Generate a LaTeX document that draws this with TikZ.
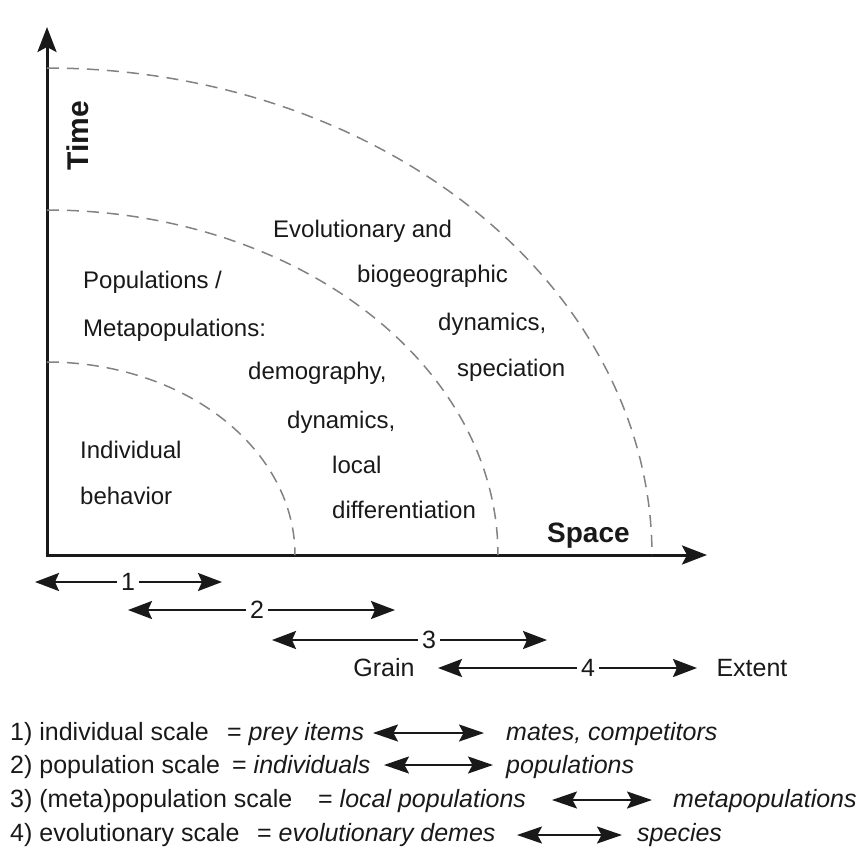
\documentclass[tikz,border=0pt]{standalone}
\usepackage{fontspec}
\setmainfont{Liberation Sans}
\usetikzlibrary{arrows.meta}
\definecolor{ink}{RGB}{25,25,25}
\definecolor{arcgray}{RGB}{130,130,130}
\begin{document}
\begin{tikzpicture}[x=1pt,y=-1pt,
  lbl/.style={font=\fontsize{24}{28}\selectfont, inner sep=0pt, anchor=base west, text=ink},
  leg/.style={font=\fontsize{25}{29}\selectfont, inner sep=0pt, anchor=base west, text=ink},
  num/.style={font=\fontsize{25}{29}\selectfont, inner sep=4pt, text=ink},
  axislbl/.style={font=\bfseries\fontsize{28}{32}\selectfont, inner sep=0pt, text=ink},
  axisline/.style={draw=ink, line width=3pt, line join=miter,
     {Stealth[length=25pt,width=19pt,inset=5pt]}-{Stealth[length=25pt,width=19pt,inset=5pt]}},
  scalearrow/.style={draw=ink, line width=2.2pt, -{Stealth[length=24pt,width=18pt,inset=4pt]}},
  legarrow/.style={draw=ink, line width=2pt,
     {Stealth[length=25pt,width=17pt,inset=4.5pt]}-{Stealth[length=25pt,width=17pt,inset=4.5pt]}},
  zone/.style={draw=arcgray, line width=1.5pt, dash pattern=on 12pt off 8pt}
]
\useasboundingbox (0,0) rectangle (867,851);

% axes
\coordinate (O) at (47,555);
\coordinate (ytip) at (47,27);
\coordinate (xtip) at (707,555);
\draw[axisline] (ytip) -- (O) -- (xtip);

% dashed zone boundaries (quarter ellipses)
\draw[zone] plot[domain=90:0, samples=90] ({47+248*cos(\x)}, {555-193*sin(\x)});
\draw[zone] plot[domain=90:0, samples=90] ({47+451*cos(\x)}, {555-345*sin(\x)});
\draw[zone] plot[domain=90:0, samples=90] ({47+605*cos(\x)}, {555-487*sin(\x)});

% axis labels
\node[axislbl, font=\bfseries\fontsize{30}{34}\selectfont, rotate=90, anchor=base] (time) at (88,136) {Time};
\node[axislbl, anchor=base west] (space) at (547,542) {Space};

% zone texts
\node[lbl] (ev1) at (273,237) {Evolutionary and};
\node[lbl] (ev2) at (357,282) {biogeographic};
\node[lbl] (ev3) at (438,330) {dynamics,};
\node[lbl] (ev4) at (457,376) {speciation};

\node[lbl] (po1) at (83,288) {Populations /};
\node[lbl] (po2) at (83,336) {Metapopulations:};
\node[lbl] (po3) at (248,379) {demography,};
\node[lbl] (po4) at (287,428) {dynamics,};
\node[lbl] (po5) at (332,473) {local};
\node[lbl] (po6) at (332,518) {differentiation};

\node[lbl] (in1) at (80,458) {Individual};
\node[lbl] (in2) at (80,504) {behavior};

% scale ranges
\node[num] (n1) at (128,582) {1};
\coordinate (r1w) at (35,582);
\coordinate (r1e) at (222,582);
\draw[scalearrow] (n1) -- (r1w);
\draw[scalearrow] (n1) -- (r1e);

\node[num] (n2) at (257,610) {2};
\coordinate (r2w) at (128,610);
\coordinate (r2e) at (395,610);
\draw[scalearrow] (n2) -- (r2w);
\draw[scalearrow] (n2) -- (r2e);

\node[num] (n3) at (429,640) {3};
\coordinate (r3w) at (272,640);
\coordinate (r3e) at (547,640);
\draw[scalearrow] (n3) -- (r3w);
\draw[scalearrow] (n3) -- (r3e);

\node[num] (n4) at (588,668) {4};
\coordinate (r4w) at (438,668);
\coordinate (r4e) at (697,668);
\draw[scalearrow] (n4) -- (r4w);
\draw[scalearrow] (n4) -- (r4e);
\node[num, inner sep=0pt] (grain) at (384,668) {Grain};
\node[num, inner sep=0pt] (extent) at (752,668) {Extent};

% legend
\node[leg] (l1a) at (10,740) {1) individual scale};
\node[leg] (l1b) at (227,740) {= \textit{prey items}};
\node[leg] (l1c) at (506,740) {\textit{mates, competitors}};
\coordinate (a1w) at (373,733);
\coordinate (a1e) at (484,733);
\draw[legarrow] (a1w) -- (a1e);

\node[leg] (l2a) at (10,773) {2) population scale};
\node[leg] (l2b) at (232,773) {= \textit{individuals}};
\node[leg] (l2c) at (506,773) {\textit{populations}};
\coordinate (a2w) at (384,765);
\coordinate (a2e) at (493,765);
\draw[legarrow] (a2w) -- (a2e);

\node[leg] (l3a) at (10,807) {3) (meta)population scale};
\node[leg] (l3b) at (318,807) {= \textit{local populations}};
\node[leg] (l3c) at (673,807) {\textit{metapopulations}};
\coordinate (a3w) at (552,800);
\coordinate (a3e) at (652,800);
\draw[legarrow] (a3w) -- (a3e);

\node[leg] (l4a) at (10,841) {4) evolutionary scale};
\node[leg] (l4b) at (257,841) {= \textit{evolutionary demes}};
\node[leg] (l4c) at (637,841) {\textit{species}};
\coordinate (a4w) at (517,835);
\coordinate (a4e) at (622,835);
\draw[legarrow] (a4w) -- (a4e);
\end{tikzpicture}
\end{document}
